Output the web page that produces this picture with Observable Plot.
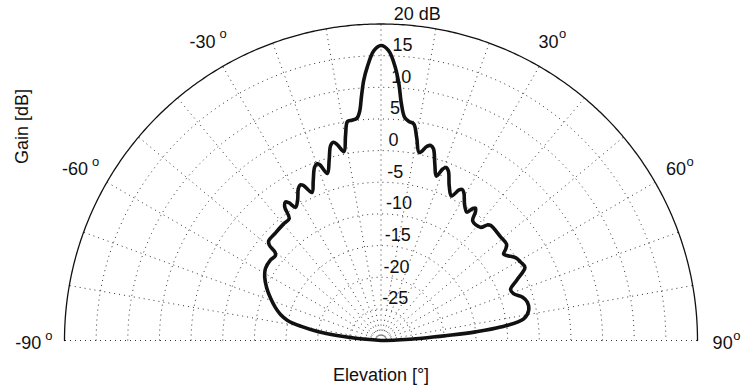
<!DOCTYPE html>
<html>
<head>
<meta charset="utf-8">
<script src="https://cdn.jsdelivr.net/npm/d3@7"></script>
<script src="https://cdn.jsdelivr.net/npm/@observablehq/plot@0.6"></script>
<style>
  html, body { margin: 0; padding: 0; background: #fff; }
  #chart { width: 744px; height: 392px; }
</style>
</head>
<body>
<div id="chart"></div>
<script>
// Elevation pattern: angle (degrees, 0 = boresight) and gain (dB)
const elevation = [
  -90, -87, -85, -83.5, -82, -80, -77.9, -75.5, -72.6, -69, -65.2, -61.5, -58.1, -54,
  -51.2, -50.2, -49.5, -48.5, -44.6, -40, -37, -35.8, -34.6, -33.8, -32.7, -30.7,
  -28.6, -27.4, -26.6, -25, -23, -21, -19.9, -19.2, -17.8, -16, -14.5, -13.5, -12.6,
  -11.1, -9.8, -8.7, -7.5, -6.2, -5.3, -4.6, -3.8, -2.9, -1.4, 0,
  1.5, 3.0, 4.0, 4.9, 6.0, 7.2, 8.6, 10.0, 11.5, 13.3, 14.3, 15.3, 17, 18.6, 19.8,
  20.6, 21.7, 23.8, 26, 27.4, 28.3, 29.4, 31.6, 33.8, 34.8, 35.5, 36.3, 37.5, 41.3,
  42.6, 43.6, 49.2, 52.5, 53.8, 54.8, 56, 58.5, 60.7, 63.1, 66, 68.5, 70.5, 73, 75.3,
  78.5, 81.4, 83.6, 84.8, 85.7, 86.8, 88, 89, 90
];
const gain = [
  -30, -30, -26, -23, -20, -17.2, -14.9, -13.6, -12.5, -11.3, -10.1, -9.1, -8.5, -8.4,
  -8.6, -8.2, -6.8, -6.3, -6.2, -6.0, -5.9, -4.0, -3.4, -3.8, -5.0, -4.2,
  -2.7, -2.3, -2.6, -4.2, -2.6, -0.7, -0.3, -0.6, -2.3, -0.3, 1.8, 2.2, 1.7,
  0.4, 2.9, 5.0, 5.1, 5.3, 6.4, 8.6, 11.2, 13.2, 15.8, 16.6,
  15.8, 13.2, 10.6, 7.6, 5.5, 4.9, 4.6, 2.5, 0.3, 1.5, 1.8, 1.4, -0.9, -2.6, -1.2,
  -0.8, -1.2, -3.3, -4.6, -3.2, -2.9, -3.3, -4.8, -5.6, -4.6, -4.3, -4.8, -6.2, -6.2,
  -5.2, -4.9, -5.0, -5.0, -5.6, -6.3, -6.0, -5.0, -4.7, -4.5, -6.5, -8.0, -7.8, -6.6, -6.1,
  -6.2, -7.2, -11.0, -15, -19.5, -23.5, -27.5, -30, -30
];

// Radial grid (dB) and angular grid (degrees)
const ringLevels = [-25, -20, -15, -10, -5, 0, 5, 10, 15];
const outerLevel = 20;
const floorLevel = -30;
const spokeAngles = [-90, -80, -70, -60, -50, -40, -30, -20, -10, 0, 10, 20, 30, 40, 50, 60, 70, 80, 90];
const angleTicks = [-90, -60, -30, 30, 60, 90];
const labelAngle = 2.3;       // direction along which the dB labels sit
const angleLabelRadius = 1.1; // angle labels sit just outside the rim

const rad = Math.PI / 180;
const rho = g => Math.max(0, g - floorLevel);
const rimRho = rho(outerLevel);
const px = (deg, r) => r * Math.sin(deg * rad);
const py = (deg, r) => r * Math.cos(deg * rad);

const pattern = elevation.map((e, i) => ({e, g: gain[i]}));
const arcSteps = d3.range(-90, 90.001, 1);
const rings = ringLevels.flatMap(level => arcSteps.map(a => ({level, a})));
const spokes = spokeAngles.flatMap(a => [{a, r: 0}, {a, r: rimRho}]);
const rim = d3.range(-90, 90.001, 0.5).map(a => ({a}));

const font = "'Liberation Sans', Arial, Helvetica, sans-serif";
const ink = "#111";
const gridStyle = {stroke: "#333", strokeWidth: 1, strokeDasharray: "1,4", strokeLinecap: "butt"};

const chart = Plot.plot({
  width: 744,
  height: 392,
  marginLeft: 64,
  marginRight: 47,
  marginTop: 23.5,
  marginBottom: 52,
  x: {domain: [-rimRho, rimRho], axis: null},
  y: {domain: [0, rimRho], axis: null},
  style: {fontFamily: font, fontSize: "18px", background: "#fff", overflow: "visible"},
  marks: [
    // dotted rings
    Plot.line(rings, {
      x: d => px(d.a, rho(d.level)), y: d => py(d.a, rho(d.level)), z: "level", ...gridStyle
    }),
    // dotted spokes from the centre outwards
    Plot.line(spokes, {
      x: d => px(d.a, d.r), y: d => py(d.a, d.r), z: "a", ...gridStyle
    }),
    // solid rim
    Plot.line(rim, {
      x: d => px(d.a, rimRho), y: d => py(d.a, rimRho),
      stroke: ink, strokeWidth: 1.3
    }),
    // gain pattern
    Plot.line(pattern, {
      x: d => px(d.e, rho(d.g)), y: d => py(d.e, rho(d.g)),
      stroke: ink, strokeWidth: 3.6, curve: "catmull-rom",
      strokeLinejoin: "round", strokeLinecap: "round"
    }),
    // dB labels
    Plot.text(ringLevels.concat([outerLevel]), {
      x: d => px(labelAngle, rho(d)), y: d => py(labelAngle, rho(d)),
      text: d => d === outerLevel ? `${d} dB` : `${d}`,
      textAnchor: "start", dy: -10.5, fontSize: 18, fill: ink
    }),
    // angle labels, negative side: "-30 °"
    Plot.text(angleTicks.filter(d => d < 0), {
      x: d => px(d, rimRho * angleLabelRadius), y: d => py(d, rimRho * angleLabelRadius),
      text: d => `${d}`, textAnchor: "end", dx: 8.5, dy: 3, fontSize: 18, fill: ink
    }),
    Plot.text(angleTicks.filter(d => d < 0), {
      x: d => px(d, rimRho * angleLabelRadius), y: d => py(d, rimRho * angleLabelRadius),
      text: () => "o", textAnchor: "start", dx: 12.5, dy: -5, fontSize: 13, fill: ink
    }),
    // angle labels, positive side: "30°"
    Plot.text(angleTicks.filter(d => d > 0), {
      x: d => px(d, rimRho * angleLabelRadius), y: d => py(d, rimRho * angleLabelRadius),
      text: d => `${d}`, textAnchor: "end", dx: 3.5, dy: 3, fontSize: 18, fill: ink
    }),
    Plot.text(angleTicks.filter(d => d > 0), {
      x: d => px(d, rimRho * angleLabelRadius), y: d => py(d, rimRho * angleLabelRadius),
      text: () => "o", textAnchor: "start", dx: 4, dy: -5, fontSize: 13, fill: ink
    }),
    // axis titles
    Plot.text(["Elevation [°]"], {
      x: () => 0, y: () => -5.5, text: d => d, fontSize: 18, fill: ink
    }),
    Plot.text(["Gain [dB]"], {
      x: () => -56.6, y: () => 33.8, text: d => d, rotate: -90, fontSize: 18, fill: ink
    })
  ]
});

document.getElementById("chart").appendChild(chart);
</script>
</body>
</html>
